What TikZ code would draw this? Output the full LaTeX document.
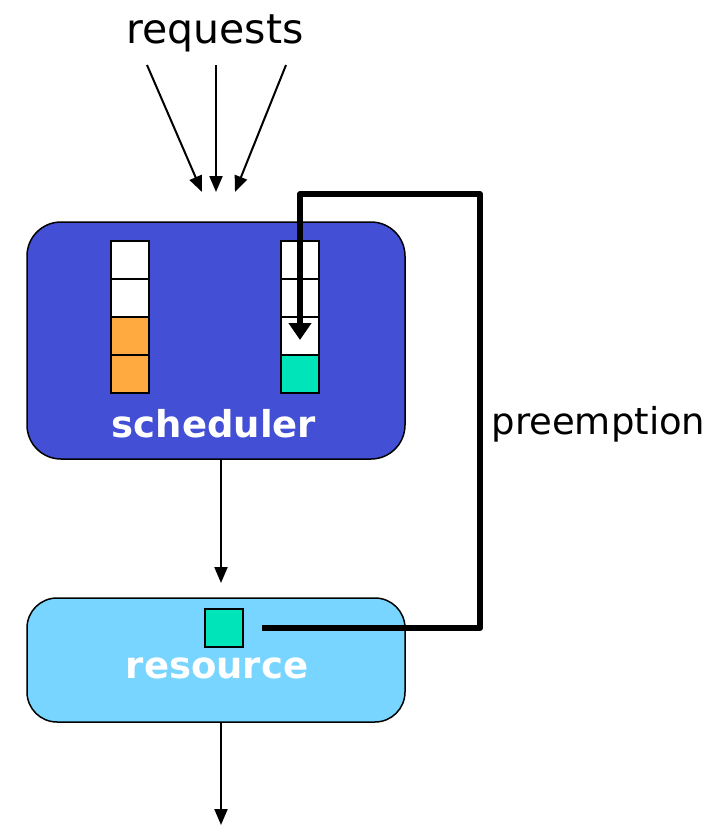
\documentclass[tikz,border=0pt]{standalone}
\usepackage{fontspec}
\setmainfont{DejaVu Sans}
\usetikzlibrary{arrows.meta}

\definecolor{schedblue}{RGB}{67,79,212}
\definecolor{resblue}{RGB}{120,213,255}
\definecolor{jobamber}{RGB}{255,170,64}
\definecolor{jobteal}{RGB}{0,228,185}

\tikzset{
  box/.style={draw=black,line width=1.5pt,minimum width=378pt,inner sep=0},
  cell/.style={draw=black,line width=1.5pt,minimum size=38pt,inner sep=0},
  flow/.style={line width=2pt,-{Triangle[width=13pt,length=16pt]}},
  preempt/.style={line width=6pt,line join=round,-{Triangle[width=22pt,length=17pt]}},
  boxname/.style={anchor=base,text=white,font=\bfseries\fontsize{37}{40}\selectfont},
}

\begin{document}
\begin{tikzpicture}[x=1pt,y=-1pt]
  \useasboundingbox (0,0) rectangle (724,825);

  % incoming requests
  \node [anchor=base,font=\fontsize{41}{44}\selectfont] (requests) at (215,43) {requests};
  \foreach \i/\s/\e in {1/147/202,2/216/216,3/286/235}{
    \coordinate (from\i) at (\s,65);
    \coordinate (to\i) at (\e,192);
    \draw[flow] (from\i) -- (to\i);
  }

  % scheduler with its two queues
  \node [box,fill=schedblue,rounded corners=34pt,minimum height=237pt] (sched) at (216,340.5) {};
  \foreach \i/\c in {0/white,1/white,2/jobamber,3/jobamber}
    \node [cell,fill=\c] (lq\i) at (130,{260+38*\i}) {};
  \foreach \i/\c in {0/white,1/white,2/white,3/jobteal}
    \node [cell,fill=\c] (rq\i) at (300,{260+38*\i}) {};
  \node [boxname] (schedname) at (214,437) {scheduler};

  % resource
  \node [box,fill=resblue,rounded corners=30pt,minimum height=124pt] (res) at (216,660) {};
  \node [cell,fill=jobteal] (run) at (224,628) {};
  \node [boxname] (resname) at (217,678) {resource};

  \coordinate (resin) at (221,583);
  \draw[flow] (sched.south -| resin) -- (resin);
  \coordinate (out) at (221,825);
  \draw[flow] (res.south -| out) -- (out);

  % preempted job goes back to the queue
  \coordinate (corner) at (480,194);
  \draw[preempt] ([xshift=18pt]run.east) -| (corner) -| ([yshift=-4pt]rq2.center);
  \node [anchor=base west,font=\fontsize{37}{40}\selectfont] (preemption) at (488,434) {preemption};
\end{tikzpicture}
\end{document}
